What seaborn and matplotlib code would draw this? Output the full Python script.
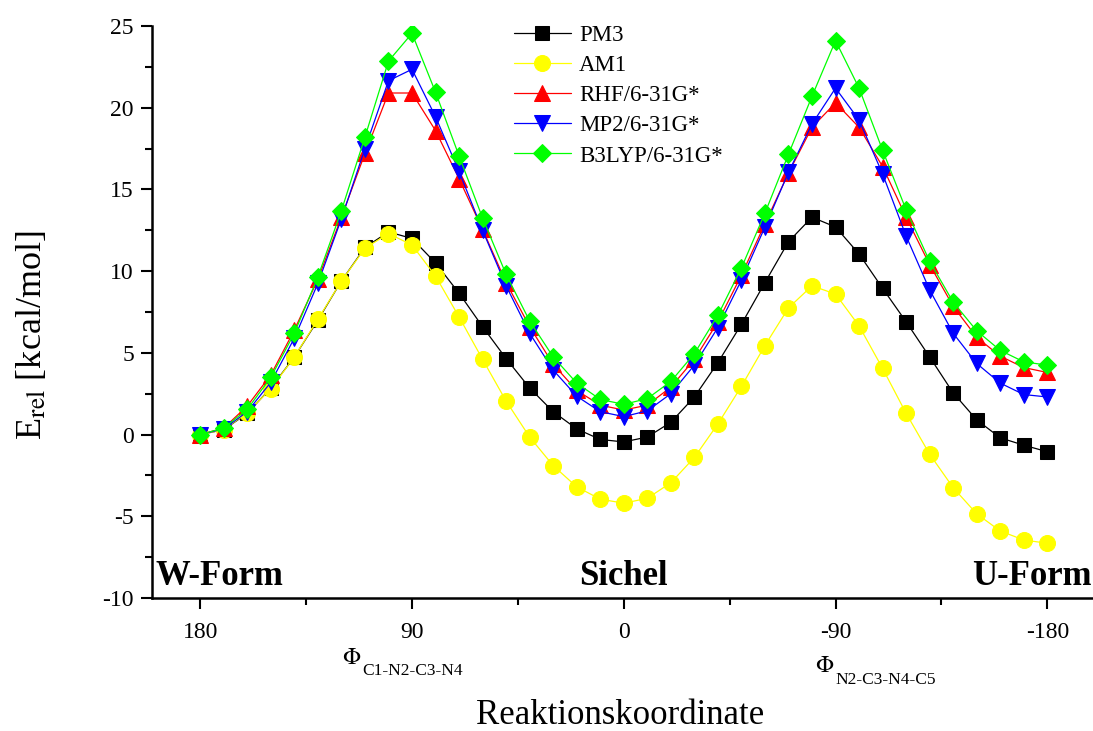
import numpy as np
import pandas as pd
import matplotlib
matplotlib.use('Agg')
import matplotlib.pyplot as plt
from matplotlib.ticker import MultipleLocator
import seaborn as sns

# Reaktionskoordinate (Diederwinkel), 180 -> -180 in 10-Grad-Schritten
winkel = list(range(180, -181, -10))

pm3 = [0, 0.3, 1.3, 2.85, 4.75, 7.0, 9.4, 11.45, 12.4, 12.0, 10.5, 8.65, 6.6,
       4.65, 2.85, 1.4, 0.35, -0.3, -0.45, -0.15, 0.75, 2.3, 4.4, 6.75, 9.3,
       11.8, 13.3, 12.7, 11.05, 8.95, 6.9, 4.75, 2.55, 0.9, -0.2, -0.65, -1.05]
am1 = [0, 0.3, 1.35, 2.8, 4.75, 7.05, 9.4, 11.4, 12.3, 11.6, 9.7, 7.2, 4.6,
       2.05, -0.15, -1.9, -3.2, -3.95, -4.2, -3.9, -2.95, -1.4, 0.65, 2.95, 5.45,
       7.75, 9.1, 8.6, 6.65, 4.05, 1.3, -1.2, -3.25, -4.85, -5.9, -6.45, -6.65]
rhf = [0, 0.4, 1.75, 3.65, 6.4, 9.5, 13.3, 17.2, 20.9, 20.9, 18.6, 15.65, 12.55,
       9.3, 6.6, 4.3, 2.7, 1.8, 1.5, 1.8, 2.9, 4.6, 6.9, 9.75, 12.9,
       16.0, 18.8, 20.3, 18.8, 16.4, 13.3, 10.4, 7.85, 5.95, 4.8, 4.1, 3.8]
mp2 = [0, 0.35, 1.4, 3.2, 5.9, 9.25, 13.2, 17.5, 21.65, 22.35, 19.45, 16.1, 12.5,
       9.1, 6.2, 3.95, 2.35, 1.4, 1.1, 1.45, 2.5, 4.25, 6.55, 9.45, 12.7,
       16.05, 19.0, 21.2, 19.25, 15.95, 12.15, 8.85, 6.2, 4.35, 3.15, 2.45, 2.3]
b3lyp = [0, 0.4, 1.55, 3.5, 6.2, 9.65, 13.7, 18.2, 22.85, 24.55, 20.95, 17.05, 13.25,
         9.8, 6.95, 4.75, 3.15, 2.15, 1.85, 2.2, 3.25, 4.95, 7.3, 10.2, 13.55,
         17.15, 20.7, 24.1, 21.2, 17.4, 13.75, 10.6, 8.1, 6.35, 5.15, 4.45, 4.25]

methoden = ['PM3', 'AM1', 'RHF/6-31G*', 'MP2/6-31G*', 'B3LYP/6-31G*']
werte = [pm3, am1, rhf, mp2, b3lyp]
farben = ['black', '#ffff00', '#ff0000', '#0000ff', '#00ff00']
marker = ['s', 'o', '^', 'v', 'D']
groessen = [10, 11.5, 11.5, 11.5, 9]

sns.set_style('ticks')
plt.rcParams['font.family'] = ['Liberation Serif', 'DejaVu Serif']
plt.rcParams['mathtext.fontset'] = 'stix'
plt.rcParams['axes.unicode_minus'] = False
plt.rcParams['text.color'] = 'black'
plt.rcParams['xtick.color'] = 'black'
plt.rcParams['ytick.color'] = 'black'
plt.rcParams['axes.edgecolor'] = 'black'

fig = plt.figure(figsize=(10.93, 7.31), dpi=100)
ax = fig.add_axes([152 / 1093, 1 - 598 / 731, (1092 - 152) / 1093, (598 - 26) / 731])

for name, y, c, m, ms in zip(methoden, werte, farben, marker, groessen):
    df = pd.DataFrame({'phi': winkel, 'E': y})
    sns.lineplot(data=df, x='phi', y='E', ax=ax, color=c, marker=m,
                 markersize=ms, markeredgecolor=c, linewidth=0.9, label=name,
                 sort=False)

ax.set_xlim(200.5, -199)
ax.set_ylim(-10, 25)
ax.xaxis.set_major_locator(MultipleLocator(90))
ax.xaxis.set_minor_locator(MultipleLocator(45))
ax.yaxis.set_major_locator(MultipleLocator(5))
ax.yaxis.set_minor_locator(MultipleLocator(2.5))
ax.tick_params(which='major', direction='out', length=8, width=1.5, labelsize=17,
               pad=9, colors='black')
ax.tick_params(which='minor', direction='out', length=5, width=1.5, colors='black')
ax.tick_params(axis='y', pad=5)
for s in ['top', 'right']:
    ax.spines[s].set_visible(False)
for s in ['left', 'bottom']:
    ax.spines[s].set_linewidth(1.8)
    ax.spines[s].set_color('black')
ax.set_xlabel('')
ax.set_ylabel('')

leg = ax.legend(loc='upper left', bbox_to_anchor=(493 / 1093, 1 - 4 / 731),
                bbox_transform=fig.transFigure, frameon=False, fontsize=16.5,
                handlelength=2.5, labelspacing=0.40, handletextpad=0.35)

# Bereichsbeschriftungen
ax.text(0.004, 0.008, 'W-Form', transform=ax.transAxes, fontsize=25,
        fontweight='bold', ha='left', va='bottom')
ax.text(0.0, -9.72, 'Sichel', fontsize=25, fontweight='bold', ha='center', va='bottom')
ax.text(1.0, 0.008, 'U-Form', transform=ax.transAxes, fontsize=25,
        fontweight='bold', ha='right', va='bottom')

# Winkelbezeichnungen unter der Achse
fig.text(342 / 1093, 1 - 659 / 731, r'$\Phi$', fontsize=17, va='center')
fig.text(362 / 1093, 1 - 671 / 731, 'C1-N2-C3-N4', fontsize=12.5, va='center')
fig.text(815 / 1093, 1 - 667 / 731, r'$\Phi$', fontsize=17, va='center')
fig.text(835 / 1093, 1 - 680 / 731, 'N2-C3-N4-C5', fontsize=12.5, va='center')

fig.text(620 / 1093, 1 - 716 / 731, 'Reaktionskoordinate', fontsize=25,
         ha='center', va='center')
fig.text(32 / 1093, 1 - 335 / 731, r'E$_{\mathrm{rel}}$ [kcal/mol]', fontsize=26,
         rotation=90, ha='center', va='center')

fig.savefig('out.png', dpi=100)
